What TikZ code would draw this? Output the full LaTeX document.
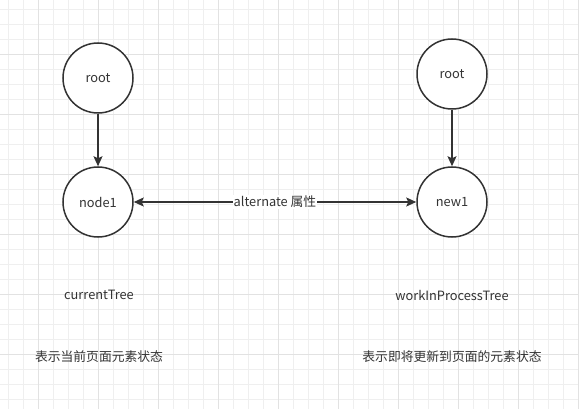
\documentclass[tikz,border=0pt]{standalone}
\usepackage{fontspec}
\setmainfont{Noto Sans CJK SC}
\usetikzlibrary{arrows.meta}
\definecolor{ink}{HTML}{333333}
\definecolor{minorgrid}{HTML}{EFEFEF}
\definecolor{majorgrid}{HTML}{E2E2E2}
\tikzset{
  treenode/.style={circle, draw=ink, line width=1.5pt, minimum size=70pt, inner sep=0pt, font=\fontsize{12.8}{15}\selectfont, text=ink, fill=white},
  conn/.style={draw=ink, line width=1.5pt, -{Stealth[length=10pt,width=9pt,inset=2pt]}},
  lbl/.style={font=\fontsize{12.8}{15}\selectfont, text=ink, inner sep=1pt},
}
\begin{document}
\begin{tikzpicture}[x=1pt,y=-1pt]
\useasboundingbox (0,0) rectangle (579,409);
\fill[white] (0,0) rectangle (579,409);
\foreach \i in {0,...,38} {
  \draw[minorgrid, line width=1pt] ({8.3+15*\i},0) -- ({8.3+15*\i},409);
}
\foreach \i in {0,...,27} {
  \draw[minorgrid, line width=1pt] (0,{9.3+15*\i}) -- (579,{9.3+15*\i});
}
\foreach \i in {0,...,9} {
  \draw[majorgrid, line width=1pt] ({38.3+60*\i},0) -- ({38.3+60*\i},409);
}
\foreach \i in {0,...,6} {
  \draw[majorgrid, line width=1pt] (0,{54.3+60*\i}) -- (579,{54.3+60*\i});
}
\node[treenode] (rootL) at (98,78) {root};
\node[treenode] (node1) at (98,202) {node1};
\node[treenode] (rootR) at (452,74) {root};
\node[treenode] (new1) at (452,202) {new1};
\draw[conn] (rootL) -- (node1);
\draw[conn] (rootR) -- (new1);
\draw[conn, {Stealth[length=10pt,width=9pt,inset=2pt]}-{Stealth[length=10pt,width=9pt,inset=2pt]}] (node1) -- (new1) node[midway, lbl, fill=white] (alt) {alternate 属性};
\node[lbl] (curT) at (99,295) {currentTree};
\node[lbl] (wipT) at (452,295) {workInProcessTree};
\node[lbl] (descL) at (99,357) {表示当前页面元素状态};
\node[lbl] (descR) at (452,357) {表示即将更新到页面的元素状态};
\end{tikzpicture}
\end{document}
